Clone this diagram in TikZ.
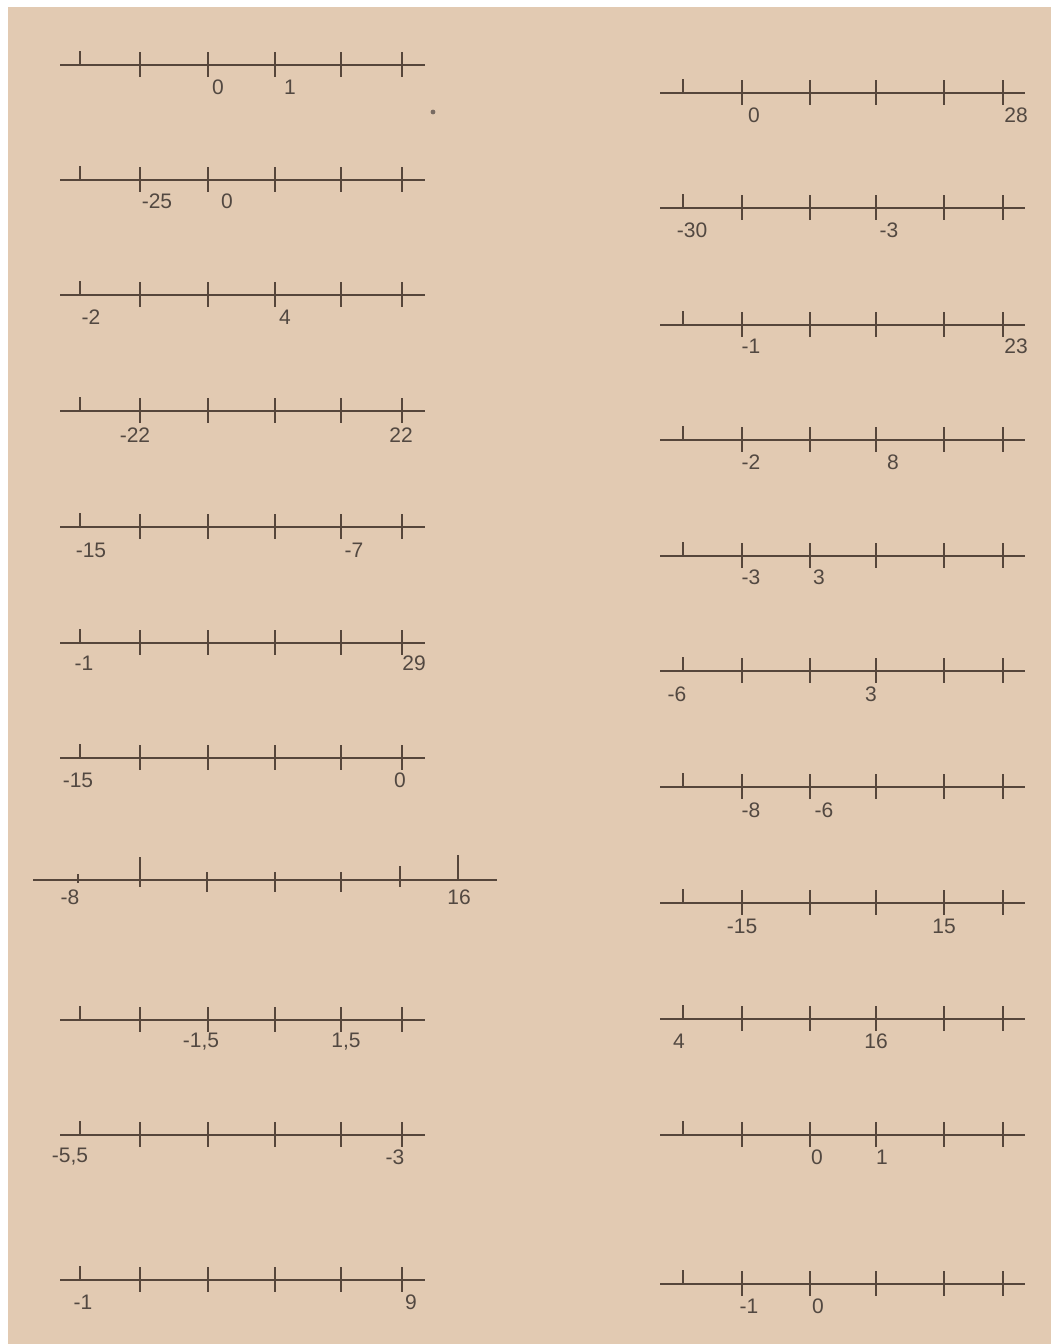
\documentclass[tikz,border=0pt]{standalone}
\usepackage{fontspec}
\setmainfont{Liberation Sans}
\usetikzlibrary{positioning}
\definecolor{NLPaper}{HTML}{E2CAB2}
\definecolor{NLInk}{HTML}{56463B}
\definecolor{NLText}{HTML}{524841}
\tikzset{
  nlaxis/.style={draw=NLInk, line width=2.1pt},
  nltick/.style={draw=NLInk, line width=2.4pt},
  nllabel/.style={text=NLText, font=\fontsize{21}{24}\selectfont,
    inner sep=0pt, anchor=center}
}

\begin{document}
\begin{tikzpicture}[x=1pt, y=-1pt]
  \useasboundingbox (0,0) rectangle (1051,1344);
  \fill[white] (0,0) rectangle (1051,1344);
  \fill[NLPaper] (8,7) rectangle (1051,1344);

  % left column
  \foreach \y in {65,180,295,411,527,643,758,1020,1135,1280} {
    \draw[nlaxis] (60,\y) -- (425,\y);
    \draw[nltick] (80,\y-14) -- (80,\y);
    \foreach \x in {140,208,275,341,402}
      \draw[nltick] (\x,\y-13) -- (\x,\y+12);
  }
  % the longer line
  \draw[nlaxis] (33,880) -- (497,880);
  \draw[nltick] (78,874) -- (78,883);
  \draw[nltick] (140,857) -- (140,887);
  \foreach \x in {207,275,341}
    \draw[nltick] (\x,872) -- (\x,892);
  \draw[nltick] (400,866) -- (400,887);
  \draw[nltick] (458,855) -- (458,880);

  % right column
  \foreach \y in {93,208,325,440,556,671,787,903,1019,1135,1284} {
    \draw[nlaxis] (660,\y) -- (1025,\y);
    \draw[nltick] (683,\y-14) -- (683,\y);
    \foreach \x in {742,810,876,944,1003}
      \draw[nltick] (\x,\y-13) -- (\x,\y+12);
  }

  % speck
  \fill[NLInk!80] (433,112) circle (2.4pt);

  % labels, left column
  \node[nllabel] (l1a) at (218,87) {0};
  \node[nllabel] (l1b) at (290,87) {1};
  \node[nllabel] (l2a) at (157,201) {-25};
  \node[nllabel] (l2b) at (227,201) {0};
  \node[nllabel] (l3a) at (91,317) {-2};
  \node[nllabel] (l3b) at (285,317) {4};
  \node[nllabel] (l4a) at (135,435) {-22};
  \node[nllabel] (l4b) at (401,435) {22};
  \node[nllabel] (l5a) at (91,550) {-15};
  \node[nllabel] (l5b) at (354,550) {-7};
  \node[nllabel] (l6a) at (84,663) {-1};
  \node[nllabel] (l6b) at (414,663) {29};
  \node[nllabel] (l7a) at (78,780) {-15};
  \node[nllabel] (l7b) at (400,780) {0};
  \node[nllabel] (l8a) at (70,897) {-8};
  \node[nllabel] (l8b) at (459,897) {16};
  \node[nllabel] (l9a) at (201,1042) {-1,5};
  \node[nllabel] (l9b) at (346,1042) {1,5};
  \node[nllabel] (l10a) at (70,1157) {-5,5};
  \node[nllabel] (l10b) at (395,1157) {-3};
  \node[nllabel] (l11a) at (83,1302) {-1};
  \node[nllabel] (l11b) at (411,1302) {9};

  % labels, right column
  \node[nllabel] (r1a) at (754,115) {0};
  \node[nllabel] (r1b) at (1016,115) {28};
  \node[nllabel] (r2a) at (692,230) {-30};
  \node[nllabel] (r2b) at (889,230) {-3};
  \node[nllabel] (r3a) at (751,346) {-1};
  \node[nllabel] (r3b) at (1016,346) {23};
  \node[nllabel] (r4a) at (751,462) {-2};
  \node[nllabel] (r4b) at (893,462) {8};
  \node[nllabel] (r5a) at (751,577) {-3};
  \node[nllabel] (r5b) at (819,577) {3};
  \node[nllabel] (r6a) at (677,694) {-6};
  \node[nllabel] (r6b) at (871,694) {3};
  \node[nllabel] (r7a) at (751,810) {-8};
  \node[nllabel] (r7b) at (824,810) {-6};
  \node[nllabel] (r8a) at (742,926) {-15};
  \node[nllabel] (r8b) at (944,926) {15};
  \node[nllabel] (r9a) at (679,1041) {4};
  \node[nllabel] (r9b) at (876,1041) {16};
  \node[nllabel] (r10a) at (817,1157) {0};
  \node[nllabel] (r10b) at (882,1157) {1};
  \node[nllabel] (r11a) at (749,1306) {-1};
  \node[nllabel] (r11b) at (818,1306) {0};
\end{tikzpicture}
\end{document}
